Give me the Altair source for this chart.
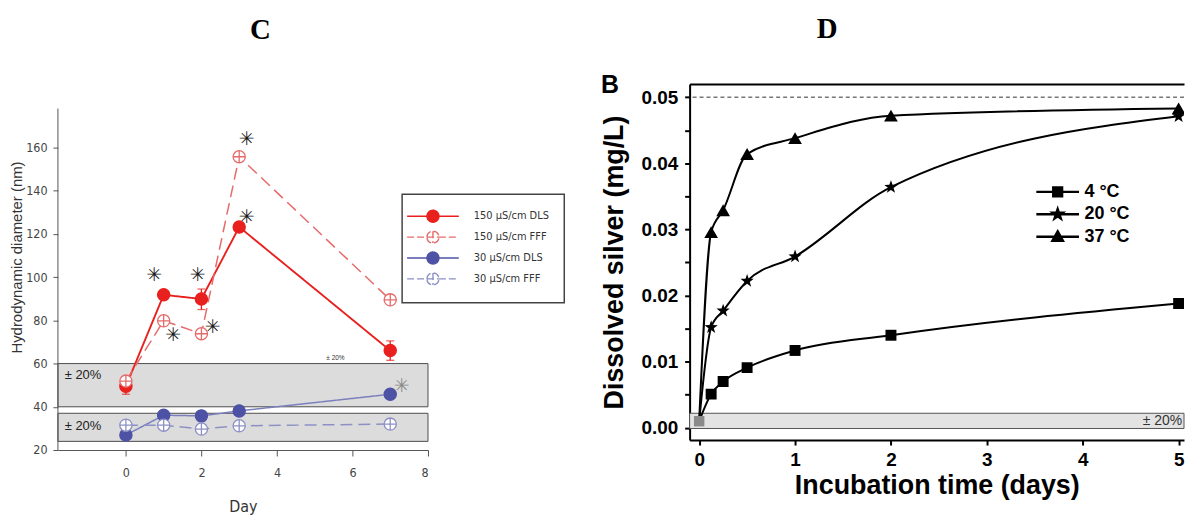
import altair as alt
import pandas as pd

# ================= Panel C : hydrodynamic diameter =================
days = [0, 1, 2, 3, 7]
dls_150 = [49.5, 91.8, 89.9, 123.2, 66.0]
fff_150 = [51.9, 79.8, 73.8, 155.7, 89.5]
dls_30 = [26.9, 36.1, 35.8, 38.1, 45.8]
fff_30 = [31.5, 31.5, 29.7, 31.2, 32.0]
series_c = ["150 µS/cm DLS", "150 µS/cm FFF", "30 µS/cm DLS", "30 µS/cm FFF"]

err_days = [0, 1, 2, 3, 7]
err_lo = [45.8, 90.3, 85.0, 121.5, 61.5]
err_hi = [53.5, 93.3, 94.5, 125.0, 70.5]

star_days = [0.75, 1.9, 3.2, 3.2, 1.25, 2.3, 7.3]
star_vals = [101, 101, 164, 128, 73, 77, 49.6]
star_kind = ["dark", "dark", "dark", "dark", "dark", "dark", "grey"]

band_x0 = [-1.8, -1.8]
band_x1 = [8, 8]
band_lo = [40, 24]
band_hi = [60, 37]
band_text_x = [-1.62, -1.62]
band_text_y = [54.5, 31.0]
band_text = ["± 20%", "± 20%"]
note_x = [5.55]
note_y = [62.6]
note_text = ["± 20%"]
axis_line_x = [-1.8]
axis_line_lo = [20]
axis_line_hi = [178]
panel_c_x = [3.56]
panel_c_y = [210.4]
panel_c_text = ["C"]

x_ticks_c = [0, 2, 4, 6, 8]
y_ticks_c = [20, 40, 60, 80, 100, 120, 140, 160]

# ================= Panel D : dissolved silver =================
t_days = [0, 0.125, 0.25, 0.5, 1, 2, 5]
ag_4 = [0.0010, 0.0051, 0.0070, 0.0091, 0.0117, 0.0140, 0.0188]
ag_20 = [0.0010, 0.0152, 0.0177, 0.0222, 0.0259, 0.0364, 0.0471]
ag_37 = [0.0010, 0.0296, 0.0329, 0.0414, 0.0438, 0.0472, 0.0483]
series_d = ["4 °C", "20 °C", "37 °C"]
start_t = [0]
start_v = [0.001]
ref_level = [0.05]
band_d_x0 = [-0.0996]
band_d_x1 = [5.056]
band_d_lo = [-0.0001]
band_d_hi = [0.0022]
band_d_text_x = [5.056]
band_d_text_y = [0.00105]
tag_x = [-0.93]
tag_y = [0.0518]
tag_text = ["B"]
panel_d_x = [1.335]
panel_d_y = [0.0589]
panel_d_text = ["D"]
x_ticks_d = [0, 1, 2, 3, 4, 5]
y_ticks_d = [0, 0.005, 0.01, 0.015, 0.02, 0.025, 0.03, 0.035, 0.04, 0.045, 0.05]

# ---------------- styling ----------------
NARROW = "DejaVu Sans Condensed, Liberation Sans Narrow, Liberation Sans"
SANS = "Liberation Sans"
SERIF = "Liberation Serif"
color_c = ["#e8211f", "#e66b6b", "#4d52a5", "#8c90c5"]
line_c = ["#e8211f", "#e66b6b", "#7b80bd", "#8c90c5"]
fill_c = ["#e8211f", "#ffffff", "#4d52a5", "#ffffff"]
dash_c = [[1, 0], [12, 6], [1, 0], [12, 6]]
leg_dash_c = [[1, 0], [7, 3], [1, 0], [7, 3]]
CIRC = "M-1,0A1,1 0 1,1 1,0A1,1 0 1,1 -1,0ZM0,-1V1M-1,0H1"
LEG_C = "M-4.33,0H-1M1,0H4.33M-1,0A1,1 0 1,1 1,0A1,1 0 1,1 -1,0ZM0,-1V1M-1,0H1"
STAR = ("M0,-1L0.235,-0.324L0.951,-0.309L0.38,0.124L0.588,0.809L0,0.4"
        "L-0.588,0.809L-0.38,0.124L-0.951,-0.309L-0.235,-0.324Z")
LEG_D = [
    "M-3.9,0H3.9M-0.8,-0.8H0.8V0.8H-0.8Z",
    "M-3.9,0H3.9M0,-0.95L0.22,-0.3L0.9,-0.29L0.36,0.12L0.56,0.77L0,0.38"
    "L-0.56,0.77L-0.36,0.12L-0.9,-0.29L-0.22,-0.3Z",
    "M-3.9,0H3.9M0,-0.95L0.95,0.75H-0.95Z",
]

# ---------------- tables ----------------
rows = []
for s, vals in zip(series_c, [dls_150, fff_150, dls_30, fff_30]):
    for d, v in zip(days, vals):
        rows.append({"series": s, "day": d, "value": v})
df_c = pd.DataFrame(rows)
df_err = pd.DataFrame({"day": err_days, "lo": err_lo, "hi": err_hi})
df_star = pd.DataFrame({"day": star_days, "value": star_vals, "kind": star_kind})
df_band = pd.DataFrame({"x0": band_x0, "x1": band_x1, "lo": band_lo, "hi": band_hi,
                        "tx": band_text_x, "ty": band_text_y, "label": band_text})
df_note = pd.DataFrame({"x": note_x, "y": note_y, "label": note_text})
df_axis_c = pd.DataFrame({"x": axis_line_x, "lo": axis_line_lo, "hi": axis_line_hi})
df_pc = pd.DataFrame({"x": panel_c_x, "y": panel_c_y, "label": panel_c_text})

rows = []
for s, vals in zip(series_d, [ag_4, ag_20, ag_37]):
    for t, v in zip(t_days, vals):
        rows.append({"series": s, "t": t, "v": v})
df_d = pd.DataFrame(rows)
df_start = pd.DataFrame({"t": start_t, "v": start_v})
df_ref = pd.DataFrame({"v": ref_level})
df_band_d = pd.DataFrame({"x0": band_d_x0, "x1": band_d_x1, "lo": band_d_lo, "hi": band_d_hi,
                          "tx": band_d_text_x, "ty": band_d_text_y})
df_tag = pd.DataFrame({"x": tag_x + panel_d_x, "y": tag_y + panel_d_y,
                       "label": tag_text + panel_d_text, "kind": ["sans", "serif"]})

# ================= left panel =================
xs_c = alt.Scale(domain=[-1.8, 8], nice=False, zero=False)
ys_c = alt.Scale(domain=[20, 189.4], nice=False, zero=False)
stroke_c = alt.Scale(domain=series_c, range=color_c)
fill_sc = alt.Scale(domain=series_c, range=fill_c)
dash_sc = alt.Scale(domain=series_c, range=leg_dash_c)

x_axis_c = alt.Axis(values=x_ticks_c, format="d", grid=False, labelFont=NARROW, labelFontSize=12.5,
                    labelColor="#444", labelPadding=11, domainColor="#555", tickColor="#555",
                    tickSize=6, title="Day", titleFont=NARROW, titleFontSize=16,
                    titleFontWeight="normal", titleColor="#333", titleY=61.5,
                    titleBaseline="alphabetic")
y_axis_c = alt.Axis(values=y_ticks_c, grid=False, domain=False, labelFont=NARROW,
                    labelFontSize=12.5, labelColor="#444", labelPadding=6, tickColor="#555",
                    tickSize=5, title="Hydrodynamic diameter (nm)", titleFont=SANS,
                    titleFontSize=15, titleFontWeight="normal", titleColor="#333",
                    titleX=-36.5, titleY=174, titleBaseline="alphabetic")

leg_c = alt.Legend(title=None, orient="none", legendX=346, legendY=111, padding=15,
                   strokeColor="#444", fillColor="white", symbolSize=144,
                   symbolStrokeWidth=1.4, symbolOpacity=1, symbolOffset=9,
                   labelFont=NARROW, labelFontSize=11, labelColor="#333",
                   labelOffset=34, rowPadding=3)


def xc(f):
    return alt.X(f, scale=xs_c, axis=x_axis_c)


def yc(f):
    return alt.Y(f, scale=ys_c, axis=y_axis_c)


layers_c = []
layers_c.append(alt.Chart(df_band).mark_rect(fill="#dcdcdc", stroke="#4d4d4d", strokeWidth=1).encode(
    x=xc("x0:Q"), x2="x1:Q", y=yc("lo:Q"), y2="hi:Q"))
layers_c.append(alt.Chart(df_axis_c).mark_rule(color="#555", strokeWidth=1).encode(
    x=xc("x:Q"), y=yc("lo:Q"), y2="hi:Q"))
layers_c.append(alt.Chart(df_band).mark_text(align="left", baseline="middle", font=SANS,
                                             fontSize=13, color="#222").encode(
    x=xc("tx:Q"), y=yc("ty:Q"), text="label:N"))
layers_c.append(alt.Chart(df_note).mark_text(align="center", baseline="middle", font=SANS,
                                             fontSize=6.5, color="#333").encode(
    x=xc("x:Q"), y=yc("y:Q"), text="label:N"))
for i, s in enumerate(series_c):
    layers_c.append(alt.Chart(df_c).transform_filter(alt.datum.series == s).mark_line(
        strokeWidth=1.9 if i == 0 else 1.5, color=line_c[i], strokeDash=dash_c[i]).encode(
        x=xc("day:Q"), y=yc("value:Q")))
layers_c.append(alt.Chart(df_err).mark_errorbar(ticks={"size": 8}, color=color_c[0],
                                                thickness=1.3).encode(
    x=xc("day:Q"), y=yc("lo:Q"), y2="hi:Q"))
for i, s in enumerate(series_c):
    layers_c.append(alt.Chart(df_c).transform_filter(alt.datum.series == s).mark_point(
        shape=CIRC, size=150, strokeWidth=1.3, opacity=1, stroke=color_c[i],
        fill=fill_c[i]).encode(x=xc("day:Q"), y=yc("value:Q")))
layers_c.append(alt.Chart(df_star).mark_text(text="✳", font="DejaVu Sans", fontSize=19,
                                             fontWeight="bold", baseline="middle",
                                             align="center").encode(
    x=xc("day:Q"), y=yc("value:Q"),
    color=alt.Color("kind:N", scale=alt.Scale(domain=["dark", "grey"], range=["#1a1a1a", "#8a8a8a"]),
                    legend=None)))
layers_c.append(alt.Chart(df_pc).mark_text(font=SERIF, fontSize=29, fontWeight="bold",
                                           color="black", baseline="alphabetic").encode(
    x=xc("x:Q"), y=yc("y:Q"), text="label:N"))
layers_c.append(alt.Chart(df_c).transform_filter(alt.datum.day == 3).mark_point(
    opacity=0, filled=True, size=144).encode(
    x=xc("day:Q"), y=yc("value:Q"),
    shape=alt.Shape("series:N", scale=alt.Scale(domain=series_c, range=[LEG_C] * 4), legend=leg_c),
    stroke=alt.Stroke("series:N", scale=stroke_c, legend=leg_c),
    fill=alt.Fill("series:N", scale=fill_sc, legend=leg_c),
    strokeDash=alt.StrokeDash("series:N", scale=dash_sc, legend=leg_c)))

left = alt.layer(*layers_c).properties(width=372, height=368)

# ================= right panel =================
xs_d = alt.Scale(domain=[-0.0996, 5.056], nice=False, zero=False)
ys_d = alt.Scale(domain=[-0.00185, 0.052], nice=False, zero=False)

x_axis_d = alt.Axis(values=x_ticks_d, format="d", grid=False, labelFont=SANS, labelFontSize=19,
                    labelFontWeight="bold", labelColor="black", labelPadding=6,
                    domainColor="black", domainWidth=2, tickColor="black", tickWidth=2,
                    tickSize=5, title="Incubation time (days)", titleFont=SANS,
                    titleFontSize=27, titleFontWeight="bold", titleColor="black",
                    titleY=54, titleBaseline="alphabetic")
x_top_d = alt.Axis(orient="top", labels=False, ticks=False, grid=False, domainColor="black",
                   domainWidth=2, title=None)
y_axis_d = alt.Axis(values=y_ticks_d, grid=False,
                    labelExpr="abs(datum.value*100 - round(datum.value*100)) < 0.001 ? format(datum.value, '.2f') : ''",
                    labelFont=SANS, labelFontSize=19, labelFontWeight="bold", labelColor="black",
                    labelPadding=7, domainColor="black", domainWidth=2, tickColor="black",
                    tickWidth=2, tickSize=5, title="Dissolved silver (mg/L)", titleFont=SANS,
                    titleFontSize=27, titleFontWeight="bold", titleColor="black",
                    titleX=-67, titleBaseline="alphabetic")

leg_d = alt.Legend(title=None, orient="none", legendX=361, legendY=99.5, padding=0,
                   symbolSize=121, symbolStrokeWidth=2.5, symbolOpacity=1, labelFont=SANS,
                   labelFontSize=18, labelFontWeight="bold", labelColor="black",
                   labelOffset=18, rowPadding=1.5)
black3 = alt.Scale(domain=series_d, range=["black", "black", "black"])


def xd(f):
    return alt.X(f, scale=xs_d, axis=None)


def yd(f):
    return alt.Y(f, scale=ys_d, axis=y_axis_d)


band_d = alt.Chart(df_band_d).mark_rect(fill="#e3e3e3", stroke="#555", strokeWidth=1).encode(
    x=alt.X("x0:Q", scale=xs_d, axis=x_top_d), x2="x1:Q", y=yd("lo:Q"), y2="hi:Q")
band_lbl_d = alt.Chart(df_band_d).mark_text(align="right", baseline="middle", font=SANS,
                                            fontSize=14, color="#333", dx=-2).encode(
    x=xd("tx:Q"), y=yd("ty:Q"), text=alt.value("± 20%"))
ref_d = alt.Chart(df_ref).mark_rule(color="#333", strokeWidth=1, strokeDash=[4, 3]).encode(
    y=yd("v:Q"))
lines_d = alt.Chart(df_d).mark_line(interpolate="monotone", color="black", strokeWidth=2,
                                    clip=True).encode(
    x=alt.X("t:Q", scale=xs_d, axis=x_axis_d), y=yd("v:Q"), detail="series:N")
base_pts = alt.Chart(df_d).transform_filter(alt.datum.t > 0)
sq_d = base_pts.transform_filter(alt.datum.series == series_d[0]).mark_point(
    shape="square", filled=True, size=121, color="black", opacity=1, clip=True).encode(
    x=xd("t:Q"), y=yd("v:Q"))
st_d = base_pts.transform_filter(alt.datum.series == series_d[1]).mark_point(
    shape=STAR, filled=True, size=196, color="black", opacity=1, clip=True).encode(
    x=xd("t:Q"), y=yd("v:Q"))
tr_d = base_pts.transform_filter(alt.datum.series == series_d[2]).mark_point(
    shape="triangle-up", filled=True, size=190, color="black", opacity=1, clip=True).encode(
    x=xd("t:Q"), y=yd("v:Q"))
start_d = alt.Chart(df_start).mark_point(shape="square", filled=True, size=110, color="#8a8a8a",
                                          opacity=1).encode(x=xd("t:Q"), y=yd("v:Q"))
tag_d = alt.Chart(df_tag).transform_filter(alt.datum.kind == "sans").mark_text(
    font=SANS, fontSize=25, fontWeight="bold", color="black", align="center",
    baseline="middle").encode(x=xd("x:Q"), y=yd("y:Q"), text="label:N")
title_d = alt.Chart(df_tag).transform_filter(alt.datum.kind == "serif").mark_text(
    font=SERIF, fontSize=29, fontWeight="bold", color="black", align="center",
    baseline="alphabetic").encode(x=xd("x:Q"), y=yd("y:Q"), text="label:N")
legend_d = alt.Chart(df_d).transform_filter(alt.datum.t == 1).mark_point(
    opacity=0, filled=True, size=121).encode(
    x=xd("t:Q"), y=yd("v:Q"),
    shape=alt.Shape("series:N", scale=alt.Scale(domain=series_d, range=LEG_D), legend=leg_d),
    stroke=alt.Stroke("series:N", scale=black3, legend=leg_d),
    fill=alt.Fill("series:N", scale=black3, legend=leg_d))

right = alt.layer(band_d, band_lbl_d, ref_d, lines_d, sq_d, st_d, tr_d, start_d, tag_d, title_d,
                  legend_d).resolve_axis(x="independent").properties(width=497, height=358)

chart = alt.hconcat(left, right, spacing=35).resolve_scale(
    shape="independent", stroke="independent", fill="independent",
    strokeDash="independent", color="independent"
).resolve_legend(
    shape="independent", stroke="independent", fill="independent",
    strokeDash="independent", color="independent"
).properties(
    padding={"left": 1.2, "top": 6, "right": 0, "bottom": 0}
).configure_view(strokeWidth=0).configure_legend(strokeWidth=1.5)

chart.save("out.html", embed_options={"renderer": "svg", "actions": False})
